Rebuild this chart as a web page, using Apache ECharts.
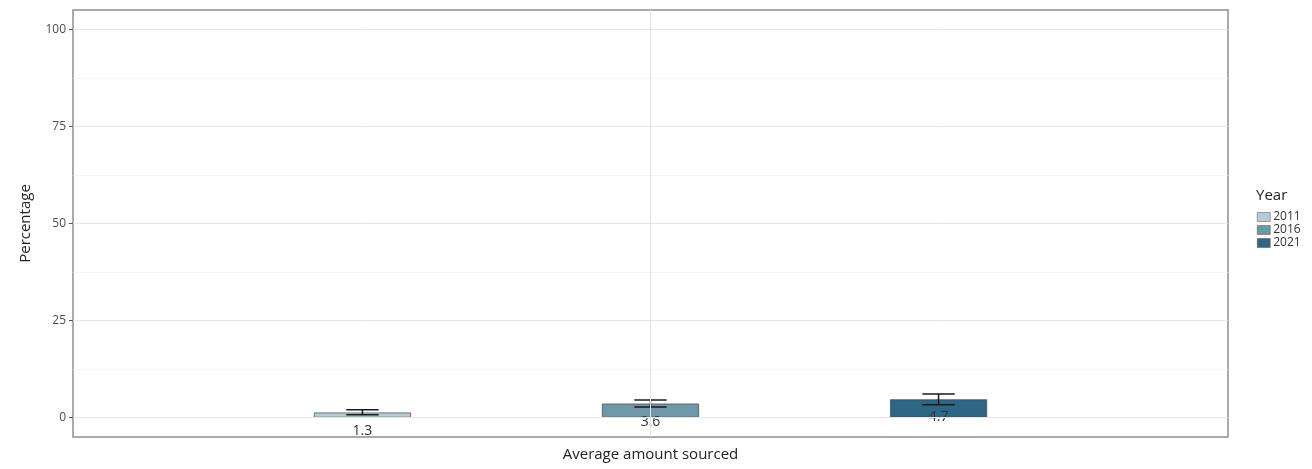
<!DOCTYPE html>
<html>
<head>
<meta charset="utf-8">
<script src="https://cdn.jsdelivr.net/npm/echarts@6/dist/echarts.min.js"></script>
<style>html,body{margin:0;padding:0;background:#fff}#c{width:1312px;height:469px}</style>
</head>
<body>
<div id="c"></div>
<script>
const categories = ['Average amount sourced'];
const years = ['2011', '2016', '2021'];
const values = [1.3, 3.6, 4.7];
const errLow = [0.7, 2.7, 3.3];
const errHigh = [2.0, 4.5, 6.1];
const yTicks = [0, 25, 50, 75, 100];
const yMinor = [12.5, 37.5, 62.5, 87.5];
const colors = ['#b6cdd5', '#6e97a8', '#2c6786'];

const FONT = '"Open Sans", "Noto Sans", sans-serif';
const barWidthFrac = 0.084;
const dodgeFrac = 0.2494;

const chart = echarts.init(document.getElementById('c'), null, {renderer: 'canvas'});

const series = [];
series.push({
  type: 'line', data: [], silent: true, z: 0,
  markLine: {
    silent: true, symbol: 'none', label: {show: false}, animation: false,
    data: [
      ...yMinor.map(v => ({yAxis: v, lineStyle: {color: '#f2f2f2', width: 0.8, type: 'solid'}})),
      ...yTicks.map(v => ({yAxis: v, lineStyle: {color: '#e6e6e6', width: 1, type: 'solid'}})),
      {xAxis: categories[0], lineStyle: {color: '#e3e3e3', width: 1, type: 'solid'}}
    ]
  }
});
years.forEach((y, i) => {
  series.push({
    name: y, type: 'bar', data: [values[i]],
    barWidth: (barWidthFrac * 100) + '%',
    barGap: ((dodgeFrac / barWidthFrac - 1) * 100) + '%',
    itemStyle: {color: colors[i], borderColor: '#444', borderWidth: 0.7},
    label: {show: true, position: 'insideTop', distance: 11, color: '#333', fontSize: 14, fontFamily: FONT,
            formatter: p => p.value.toFixed(1)},
    z: 2
  });
});
years.forEach((y, i) => {
  series.push({
    type: 'custom', name: y + ' err', z: 3, silent: true,
    data: [[0, errLow[i], errHigh[i]]],
    encode: {x: 0, y: [1, 2]},
    renderItem: function (params, api) {
      const band = api.size([1, 0])[0];
      const off = (i - 1) * dodgeFrac * band;
      const lo = api.coord([api.value(0), api.value(1)]);
      const hi = api.coord([api.value(0), api.value(2)]);
      const x = lo[0] + off;
      const hw = band * barWidthFrac / 6;
      const st = {stroke: '#1a1a1a', lineWidth: 1.5};
      return {type: 'group', children: [
        {type: 'line', shape: {x1: x, y1: lo[1], x2: x, y2: hi[1]}, style: st},
        {type: 'line', shape: {x1: x - hw, y1: lo[1], x2: x + hw, y2: lo[1]}, style: st},
        {type: 'line', shape: {x1: x - hw, y1: hi[1], x2: x + hw, y2: hi[1]}, style: st}
      ]};
    }
  });
});

chart.setOption({
  animation: false,
  backgroundColor: '#fff',
  textStyle: {fontFamily: FONT},
  grid: {left: 73, right: 84, top: 10, bottom: 32, outerBoundsMode: 'none', containLabel: false,
         show: true, borderColor: '#8f8f8f', borderWidth: 1.5, backgroundColor: 'transparent'},
  legend: {
    data: years, orient: 'vertical', left: 1257, top: 211,
    itemWidth: 13, itemHeight: 9, itemGap: 1, icon: 'rect',
    itemStyle: {borderColor: '#555', borderWidth: 0.5},
    textStyle: {fontSize: 12, color: '#333', fontFamily: FONT, padding: [0, 0, 0, -2]},
    padding: 0
  },
  graphic: [{type: 'text', left: 1256, top: 188, style: {text: 'Year', fontSize: 15, fill: '#222', fontFamily: FONT}}],
  xAxis: {
    type: 'category', data: categories,
    name: categories[0], nameLocation: 'middle', nameGap: 10,
    nameTextStyle: {fontSize: 15, color: '#222', fontFamily: FONT, verticalAlign: 'top'},
    axisLine: {show: false}, axisLabel: {show: false},
    axisTick: {show: true, alignWithLabel: true, length: 4, lineStyle: {color: '#555'}},
    splitLine: {show: false}
  },
  yAxis: {
    type: 'value', min: -5, max: 105,
    name: 'Percentage', nameLocation: 'middle', nameGap: 40, nameRotate: 90,
    nameTextStyle: {fontSize: 15, color: '#222', fontFamily: FONT},
    axisLine: {show: false},
    axisTick: {show: true, length: 4, lineStyle: {color: '#555'}, customValues: yTicks},
    axisLabel: {color: '#4d4d4d', fontSize: 12, margin: 7, fontFamily: FONT, customValues: yTicks},
    splitLine: {show: false}
  },
  series: series
});
</script>
</body>
</html>
